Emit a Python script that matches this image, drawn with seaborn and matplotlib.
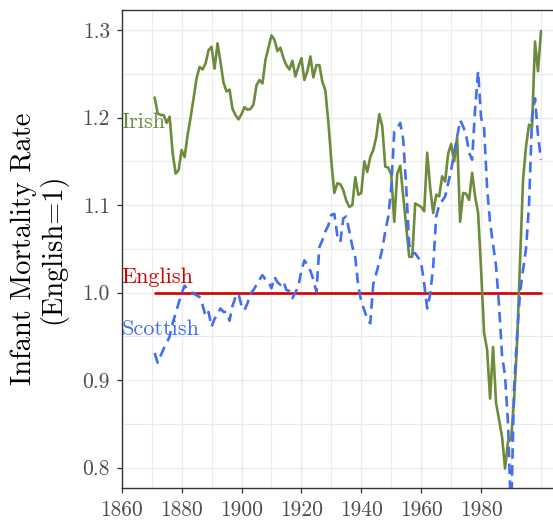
import matplotlib
matplotlib.use("Agg")
import matplotlib.pyplot as plt
import pandas as pd
import seaborn as sns
from matplotlib.ticker import FixedLocator

# Infant mortality relative to England, 1871-2000
years = list(range(1871, 2001))

irish = [
    1.223, 1.205, 1.203, 1.203, 1.194, 1.201, 1.160, 1.136, 1.140, 1.163,
    1.155, 1.180, 1.200, 1.222, 1.245, 1.258, 1.255, 1.262, 1.277, 1.281,
    1.256, 1.285, 1.263, 1.240, 1.230, 1.232, 1.210, 1.203, 1.198, 1.204,
    1.212, 1.209, 1.210, 1.215, 1.237, 1.243, 1.239, 1.266, 1.280, 1.294,
    1.289, 1.276, 1.280, 1.268, 1.260, 1.255, 1.265, 1.247, 1.258, 1.268,
    1.243, 1.253, 1.270, 1.246, 1.260, 1.260, 1.241, 1.231, 1.195, 1.150,
    1.114, 1.125, 1.124, 1.117, 1.105, 1.098, 1.100, 1.132, 1.112, 1.114,
    1.150, 1.138, 1.155, 1.163, 1.178, 1.204, 1.190, 1.144, 1.143, 1.135,
    1.081, 1.136, 1.145, 1.110, 1.075, 1.041, 1.041, 1.102, 1.100, 1.098,
    1.093, 1.160, 1.120, 1.091, 1.112, 1.110, 1.133, 1.127, 1.159, 1.170,
    1.150, 1.178, 1.081, 1.114, 1.113, 1.106, 1.137, 1.110, 1.091, 1.026,
    0.954, 0.935, 0.879, 0.938, 0.874, 0.855, 0.835, 0.799, 0.830, 0.832,
    0.877, 0.942, 1.035, 1.129, 1.167, 1.192, 1.189, 1.287, 1.253, 1.299,
]

scottish = [
    0.931, 0.920, 0.928, 0.936, 0.942, 0.950, 0.965, 0.976, 0.988, 0.999,
    1.008, 1.004, 1.001, 0.999, 0.997, 0.995, 0.986, 0.973, 0.978, 0.961,
    0.970, 0.976, 0.982, 0.978, 0.978, 0.968, 0.985, 0.995, 0.999, 0.985,
    0.980, 0.988, 0.999, 1.003, 1.009, 1.015, 1.020, 1.015, 1.013, 1.005,
    1.018, 1.012, 1.009, 1.013, 1.003, 1.002, 0.994, 1.000, 1.008, 1.025,
    1.037, 1.032, 1.025, 1.015, 1.001, 1.052, 1.060, 1.070, 1.077, 1.089,
    1.090, 1.065, 1.058, 1.085, 1.087, 1.070, 1.053, 1.040, 1.007, 0.990,
    0.980, 0.970, 0.965, 1.010, 1.022, 1.035, 1.050, 1.070, 1.087, 1.120,
    1.184, 1.188, 1.194, 1.175, 1.120, 1.055, 1.045, 1.045, 1.040, 1.034,
    1.010, 0.982, 0.998, 1.030, 1.087, 1.100, 1.105, 1.110, 1.125, 1.140,
    1.160, 1.178, 1.197, 1.190, 1.180, 1.160, 1.152, 1.210, 1.253, 1.200,
    1.188, 1.120, 1.080, 1.055, 1.030, 0.985, 0.928, 0.905, 0.850, 0.740,
    0.890, 0.950, 1.000, 1.026, 1.050, 1.100, 1.200, 1.222, 1.180, 1.152,
]

english = [1.0] * len(years)

groups = ["English", "Irish", "Scottish"]
colors = {"English": "#D00000", "Irish": "#6E8B3D", "Scottish": "#436EEE"}
dash_styles = {"English": "", "Irish": "", "Scottish": (4, 2.4)}

# direct labels placed at the left edge of the panel
label_x = 1860
label_y = {"Irish": 1.188, "English": 1.011, "Scottish": 0.952}

x_breaks = [1860, 1880, 1900, 1920, 1940, 1960, 1980]
x_minor = [1870, 1890, 1910, 1930, 1950, 1970, 1990, 2000]
y_breaks = [0.8, 0.9, 1.0, 1.1, 1.2, 1.3]
y_labels = ["0.8", "0.9", "1.0", "1.1", "1.2", "1.3"]
y_minor = [0.85, 0.95, 1.05, 1.15, 1.25]

df = pd.DataFrame({
    "year": years * 3,
    "ratio": english + irish + scottish,
    "group": ["English"] * len(years) + ["Irish"] * len(years) + ["Scottish"] * len(years),
})

sns.set_theme(style="whitegrid")
plt.rcParams["font.family"] = ["cmr10", "DejaVu Serif"]
plt.rcParams["axes.formatter.use_mathtext"] = True

W, H = 553, 525
fig = plt.figure(figsize=(W / 100, H / 100), dpi=100)
left, right, top, bottom = 121.7, 553.0, 10.0, 488.3
ax = fig.add_axes([left / W, (H - bottom) / H, (right - left) / W, (bottom - top) / H])

sns.lineplot(
    data=df, x="year", y="ratio", hue="group", style="group",
    hue_order=groups, style_order=groups, palette=colors, dashes=dash_styles,
    linewidth=1.9, legend=False, ax=ax,
)

for name in ["Irish", "English", "Scottish"]:
    ax.text(label_x, label_y[name], name, color=colors[name], fontsize=16,
            ha="left", va="baseline")

ax.set_xlim(1860, 1860 + (right - left) / 2.995)
ax.set_ylim(0.7765, 1.323)

ax.set_xticks(x_breaks)
ax.set_xticklabels([str(v) for v in x_breaks])
ax.xaxis.set_minor_locator(FixedLocator(x_minor))
ax.set_yticks(y_breaks)
ax.set_yticklabels(y_labels)
ax.yaxis.set_minor_locator(FixedLocator(y_minor))

ax.grid(which="major", color="#EBEBEB", linewidth=1.0)
ax.grid(which="minor", color="#EBEBEB", linewidth=0.8)
ax.set_axisbelow(True)

ax.tick_params(axis="both", which="major", length=3.5, width=0.9, color="#333333",
               labelcolor="#4D4D4D", labelsize=15.5, pad=5, left=True, bottom=True)
ax.tick_params(axis="both", which="minor", length=0)

for side in ["left", "bottom", "top"]:
    ax.spines[side].set_visible(True)
    ax.spines[side].set_color("#333333")
    ax.spines[side].set_linewidth(1.0)
ax.spines["right"].set_visible(False)

ax.set_xlabel("")
ax.set_ylabel("Infant Mortality Rate\n(English=1)", fontsize=20.5, color="black",
              linespacing=1.05)
ax.yaxis.set_label_coords(-0.127, 0.5)

fig.savefig("out.png", dpi=100)
